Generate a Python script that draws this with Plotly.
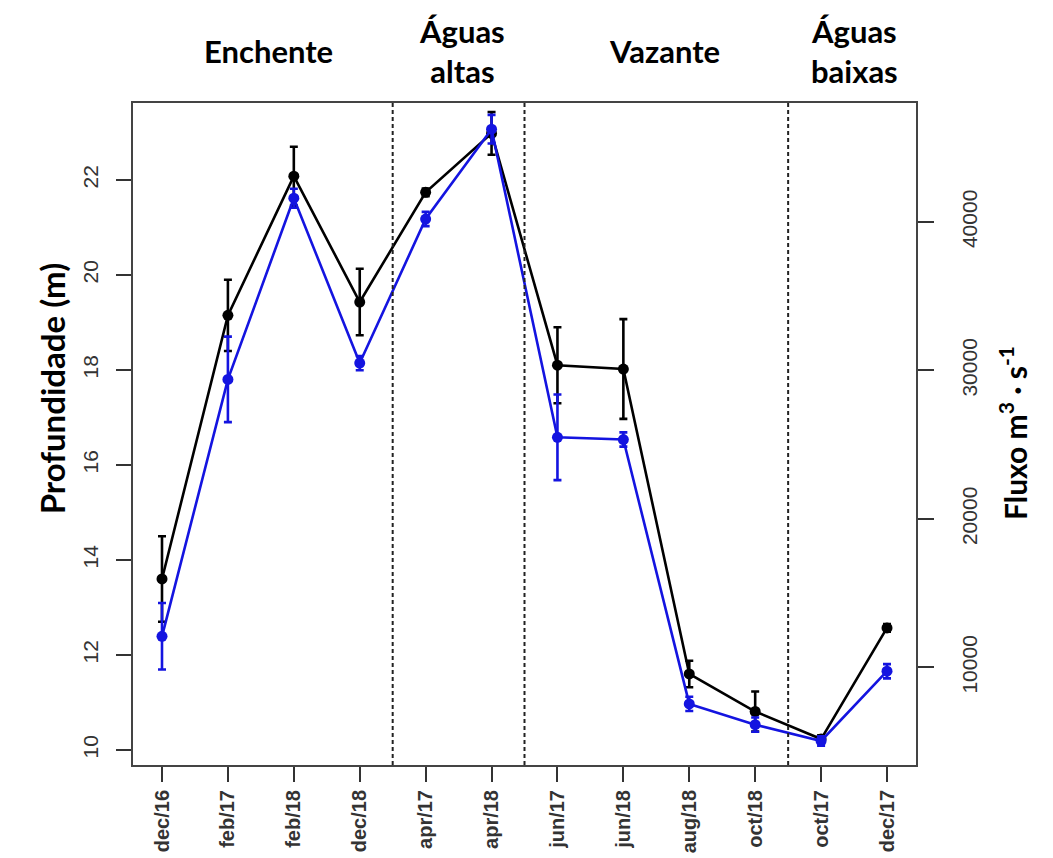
import plotly.graph_objects as go

categories = ["dec/16", "feb/17", "feb/18", "dec/18", "apr/17", "apr/18",
              "jun/17", "jun/18", "aug/18", "oct/18", "oct/17", "dec/17"]
depth = [13.6, 19.15, 22.08, 19.43, 21.74, 22.98, 18.1, 18.02, 11.6, 10.81, 10.23, 12.57]
depth_err = [0.9, 0.75, 0.62, 0.7, 0.08, 0.45, 0.8, 1.05, 0.28, 0.42, 0.08, 0.08]
flow = [12100, 29400, 41600, 30500, 40200, 46250, 25500, 25350, 7550, 6150, 5050, 9750]
flow_err = [2240, 2880, 640, 480, 480, 960, 2880, 480, 480, 480, 320, 480]
left_ticks = [10, 12, 14, 16, 18, 20, 22]
right_ticks = [10000, 20000, 30000, 40000]
period_bounds = [4.5, 6.5, 10.5]
periods = ["Enchente", "Águas<br>altas", "Vazante", "Águas<br>baixas"]
period_pos = [2.61, 5.55, 8.63, 11.5]

xpos = list(range(1, len(categories) + 1))
BLUE = "#1414e0"

fig = go.Figure()
fig.add_trace(go.Scatter(
    x=xpos, y=flow, yaxis="y2", mode="lines+markers",
    line=dict(color=BLUE, width=2.6),
    marker=dict(color=BLUE, size=11),
    error_y=dict(type="data", array=flow_err, color=BLUE, thickness=2.6, width=4),
    showlegend=False))
fig.add_trace(go.Scatter(
    x=xpos, y=depth, mode="lines+markers",
    line=dict(color="black", width=2.6),
    marker=dict(color="black", size=11),
    error_y=dict(type="data", array=depth_err, color="black", thickness=2.6, width=4),
    showlegend=False))

for b in period_bounds:
    fig.add_shape(type="line", xref="x", yref="paper", x0=b, x1=b, y0=0, y1=1,
                  line=dict(color="#222", width=2, dash="4px,3px"))

hdr_font = dict(family="Lato", size=31, color="black")
for txt, px in zip(periods, period_pos):
    fig.add_annotation(x=px, xref="x", y=(765 - 51) / 662, yref="paper",
                       text="<b>" + txt + "</b>", showarrow=False, font=hdr_font,
                       yanchor="middle")

fig.add_annotation(x=-0.1315, y=0.569, xref="paper", yref="paper",
                   text="<b>Profundidade (m)</b>", textangle=-90, showarrow=False,
                   font=dict(family="Lato", size=33, color="black"))
fig.add_annotation(x=1.152, y=0.5015, xref="paper", yref="paper",
                   text="<b>Fluxo m<sup>3</sup> · s<sup>-1</sup></b>", textangle=-90,
                   showarrow=False, font=dict(family="Lato", size=30, color="black"))

tick_font = dict(family="Liberation Sans", size=21, color="#333")
fig.update_layout(
    width=1053, height=858,
    margin=dict(l=133, r=137, t=103, b=93, autoexpand=False),
    paper_bgcolor="white", plot_bgcolor="white",
    xaxis=dict(range=[0.56, 12.44], tickvals=xpos, ticktext=["<b>" + c + "</b>" for c in categories],
               tickangle=-90, ticks="outside", ticklen=15, tickwidth=2, tickcolor="#333",
               showline=True, linecolor="#444", linewidth=2, mirror=True,
               showgrid=False, zeroline=False, automargin=False,
               tickfont=dict(family="Liberation Sans", size=20, color="#333")),
    yaxis=dict(range=[9.684, 23.62], tickvals=left_ticks, tickangle=-90,
               ticks="outside", ticklen=15, tickwidth=2, tickcolor="#333",
               ticklabelstandoff=10, automargin=False,
               showline=True, linecolor="#444", linewidth=2, mirror=True,
               showgrid=False, zeroline=False, tickfont=tick_font),
    yaxis2=dict(range=[3434, 48013], tickvals=right_ticks, ticktext=[str(v) for v in right_ticks],
                tickangle=-90, overlaying="y", automargin=False,
                side="right", ticks="outside", ticklen=16, tickwidth=2, tickcolor="#333",
                ticklabelstandoff=18,
                showline=True, linecolor="#444", linewidth=2,
                showgrid=False, zeroline=False, tickfont=tick_font),
)

fig.write_html("out.html")
